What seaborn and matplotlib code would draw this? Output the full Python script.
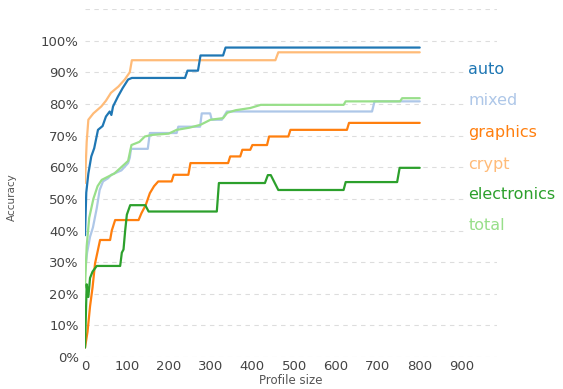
import matplotlib
matplotlib.use('Agg')  # no GUI backend
import matplotlib.pyplot as plt
import seaborn as sns
import pandas as pd

# series (profile size -> accuracy in %)
auto_x = [0, 3, 8, 15, 22, 31, 42, 50, 59, 63, 67, 79, 90, 103, 112, 239, 245, 270, 276, 330, 336, 800]
auto_y = [38.5, 52, 58, 63.4, 66, 71.8, 73, 76, 77.6, 76.5, 79.2, 82.4, 85, 87.7, 88.2, 88.2, 90.5, 90.5, 95.3, 95.3, 97.8, 97.8]

mixed_x = [0, 5, 12, 19, 28, 35, 43, 55, 63, 87, 103, 107, 110, 150, 155, 219, 223, 275, 279, 299, 303, 327, 339, 686, 692, 800]
mixed_y = [27, 33, 38, 41, 47, 52.8, 55.5, 56.5, 57.6, 59, 61.3, 63, 65.8, 65.8, 70.8, 70.8, 72.8, 72.8, 77, 77, 75, 75, 77.6, 77.6, 80.8, 80.8]

graphics_x = [0, 6, 12, 18, 24, 36, 60, 64, 72, 128, 135, 145, 155, 165, 175, 207, 212, 247, 252, 342, 347, 371, 376, 395,
              400, 435, 440, 486, 491, 626, 631, 800]
graphics_y = [3, 8, 16, 22, 29.6, 37, 37, 40, 43.3, 43.3, 45.5, 48, 51.8, 54, 55.5, 55.5, 57.6, 57.6, 61.3, 61.3, 63.4, 63.4,
              65.5, 65.5, 67, 67, 69.7, 69.7, 71.8, 71.8, 74, 74]

crypt_x = [0, 4, 8, 20, 39, 50, 62, 80, 95, 107, 112, 455, 462, 800]
crypt_y = [55, 68, 75, 77, 79.2, 81, 83.5, 85.5, 87.7, 90, 93.8, 93.8, 96.3, 96.3]

electronics_x = [0, 4, 8, 12, 18, 28, 84, 88, 92, 96, 100, 108, 144, 152, 315, 320, 430, 437, 444, 462, 618, 623, 746, 752, 800]
electronics_y = [3, 23, 19, 25, 27, 28.8, 28.8, 33, 34, 40, 45, 48, 48, 46, 46, 55, 55, 57.5, 57.5, 52.8, 52.8, 55.3, 55.3, 59.8, 59.8]

total_x = [0, 4, 10, 20, 30, 40, 55, 70, 95, 103, 111, 130, 143, 160, 200, 219, 250, 276, 300, 330, 340, 360, 395, 420,
           618, 623, 753, 758, 800]
total_y = [22, 35, 44, 50, 54, 56, 57, 58, 61, 62, 67, 68, 69.7, 70.2, 70.6, 71.8, 72.5, 73.4, 75, 75.5, 77.2, 78, 78.7,
           79.7, 79.7, 80.8, 80.8, 81.8, 81.8]

names = ["auto", "mixed", "graphics", "crypt", "electronics", "total"]
colors = ["#1f77b4", "#aec7e8", "#ff7f0e", "#ffbb78", "#2ca02c", "#98df8a"]
label_y = [91, 81, 71, 61, 51.5, 41.5]
y_ticks = list(range(0, 111, 10))
x_ticks = list(range(0, 901, 100))

series = {
    "auto": (auto_x, auto_y),
    "mixed": (mixed_x, mixed_y),
    "graphics": (graphics_x, graphics_y),
    "crypt": (crypt_x, crypt_y),
    "electronics": (electronics_x, electronics_y),
    "total": (total_x, total_y),
}
frames = [pd.DataFrame({"size": xs, "acc": ys, "name": n}) for n, (xs, ys) in series.items()]
df = pd.concat(frames, ignore_index=True)

sns.set_style("white")
fig = plt.figure(figsize=(5.63, 3.89), dpi=100)
ax = fig.add_axes([0.151, 0.082, 0.732, 0.895])

draw_order = ["mixed", "total", "graphics", "electronics", "crypt", "auto"]
sns.lineplot(data=df, x="size", y="acc", hue="name", hue_order=draw_order,
             palette=dict(zip(names, colors)), estimator=None, sort=False,
             legend=False, linewidth=1.6, ax=ax)

ax.set_xlim(0, 985)
ax.set_ylim(0, 110)
ax.set_yticks(y_ticks)
ax.set_yticklabels([f"{v}%" if v <= 100 else "" for v in y_ticks])
ax.set_xticks(x_ticks)
ax.tick_params(length=0, labelsize=9.5, labelcolor="#444444")
ax.tick_params(axis="y", pad=4.5)
ax.tick_params(axis="x", pad=2)
ax.yaxis.grid(True, linestyle=(0, (4, 4)), color="#dddddd", linewidth=0.8)
ax.xaxis.grid(False)
for s in ax.spines.values():
    s.set_visible(False)

for n, c, yv in zip(names, colors, label_y):
    ax.text(916, yv, n, color=c, fontsize=11.5, va="center", ha="left",
            bbox=dict(facecolor="white", edgecolor="none", pad=1))

ax.set_xlabel("Profile size", fontsize=8.5, color="#555555")
ax.set_ylabel("Accuracy", fontsize=7.5, color="#555555")
ax.xaxis.set_label_coords(0.5, -0.048)
ax.yaxis.set_label_coords(-0.165, 0.46)

fig.savefig("out.png", dpi=100)
plt.close(fig)
